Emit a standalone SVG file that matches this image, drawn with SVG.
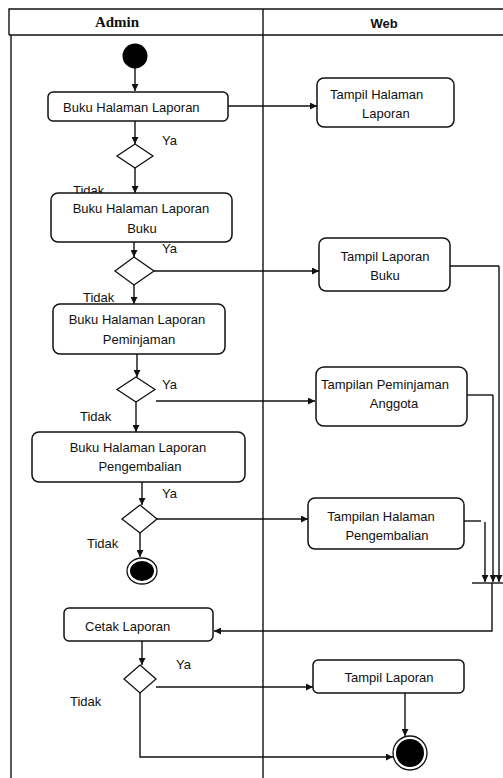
<svg xmlns="http://www.w3.org/2000/svg" width="503" height="778" viewBox="0 0 503 778">
  <style>
    .lane { fill: none; stroke: #111; stroke-width: 1.4; }
    .act { fill: #fff; stroke: #111; stroke-width: 1.5; }
    .dec { fill: #fff; stroke: #111; stroke-width: 1.3; }
    .flow { fill: none; stroke: #111; stroke-width: 1.4; }
    .arr { marker-end: url(#head); }
    .t { font-family: "Liberation Sans", Arial, sans-serif; font-size: 13px; fill: #111; }
    .c { text-anchor: middle; }
    .hd { font-weight: bold; text-anchor: middle; fill: #111; }
  </style>
  <defs>
    <marker id="head" viewBox="0 0 10 10" refX="10" refY="5" markerWidth="7" markerHeight="7" markerUnits="userSpaceOnUse" orient="auto">
      <path d="M0,0 L10,5 L0,10 Z" fill="#111"/>
    </marker>
  </defs>

  <rect width="503" height="778" fill="#fff"/>

  <!-- swimlanes -->
  <g id="lanes">
    <path class="lane" d="M9,35 V9 H503 M9,35 H503 M11,35 V778 M263,9 V778"/>
    <text class="hd" x="117" y="27" font-family="'Liberation Serif', 'Times New Roman', serif" font-size="15">Admin</text>
    <text class="hd" x="384" y="28" font-family="'Liberation Sans', Arial, sans-serif" font-size="13">Web</text>
  </g>

  <!-- connectors -->
  <g id="connectors">
    <path class="flow arr" d="M135,68 V91"/>
    <path class="flow arr" d="M228,106 H317"/>
    <path class="flow arr" d="M135,121 V144"/>
    <path class="flow arr" d="M135,168 V193"/>
    <path class="flow arr" d="M134,242 V257"/>
    <path class="flow arr" d="M154,271 H319"/>
    <path class="flow arr" d="M134,285 V304"/>
    <path class="flow arr" d="M137,354 V377"/>
    <path class="flow arr" d="M156,401 H315"/>
    <path class="flow arr" d="M136,402 V432"/>
    <path class="flow arr" d="M142,482 V505"/>
    <path class="flow arr" d="M157,519 H308"/>
    <path class="flow arr" d="M140,533 V557"/>
    <!-- merge of the three web branches -->
    <path class="flow" d="M450,266 H499"/>
    <path class="flow arr" d="M499,266 V582"/>
    <path class="flow" d="M467,395 H493"/>
    <path class="flow arr" d="M493,395 V582"/>
    <path class="flow" d="M464,521 H481"/>
    <path class="flow arr" d="M485,522 V582"/>
    <path class="flow" d="M472,583 H503"/>
    <path class="flow arr" d="M492,583 V631 H214"/>
    <path class="flow arr" d="M142,641 V665"/>
    <path class="flow arr" d="M156,687 H313"/>
    <path class="flow arr" d="M405,693 V736"/>
    <path class="flow arr" d="M140,693 V757 H393"/>
  </g>

  <!-- labels on decisions -->
  <g id="guards" class="t">
    <text x="162" y="145">Ya</text>
    <text x="73" y="195">Tidak</text>
    <text x="162" y="253">Ya</text>
    <text x="83" y="302">Tidak</text>
    <text x="162" y="389">Ya</text>
    <text x="80" y="421">Tidak</text>
    <text x="162" y="498">Ya</text>
    <text x="87" y="548">Tidak</text>
    <text x="176" y="669">Ya</text>
    <text x="70" y="706">Tidak</text>
  </g>

  <g id="start">
    <circle cx="135" cy="56" r="12.5" fill="#000"/>
  </g>

  <g id="buka-laporan">
    <rect class="act" x="48" y="92" width="180" height="29" rx="5"/>
    <text class="t" x="63" y="112">Buku Halaman Laporan</text>
  </g>

  <g id="tampil-halaman-laporan">
    <rect class="act" x="317" y="78" width="137" height="49" rx="7"/>
    <text class="t" x="330" y="99">Tampil Halaman</text>
    <text class="t" x="362" y="118">Laporan</text>
  </g>

  <g id="decision-1">
    <path class="dec" d="M135,144 L153,156 L135,168 L117,156 Z"/>
  </g>

  <g id="buka-laporan-buku">
    <rect class="act" x="51" y="193" width="181" height="49" rx="7"/>
    <text class="t c" x="141" y="213">Buku Halaman Laporan</text>
    <text class="t c" x="142" y="233">Buku</text>
  </g>

  <g id="decision-2">
    <path class="dec" d="M134,257 L154,271 L134,285 L115,271 Z"/>
  </g>

  <g id="tampil-laporan-buku">
    <rect class="act" x="319" y="238" width="131" height="53" rx="7"/>
    <text class="t c" x="385" y="261">Tampil Laporan</text>
    <text class="t c" x="385" y="280">Buku</text>
  </g>

  <g id="buka-laporan-peminjaman">
    <rect class="act" x="53" y="304" width="172" height="50" rx="7"/>
    <text class="t c" x="137" y="324">Buku Halaman Laporan</text>
    <text class="t c" x="139" y="344">Peminjaman</text>
  </g>

  <g id="decision-3">
    <path class="dec" d="M136,377 L155,389.5 L136,402 L117,389.5 Z"/>
  </g>

  <g id="tampilan-peminjaman">
    <rect class="act" x="316" y="367" width="151" height="59" rx="8"/>
    <text class="t c" x="385" y="389">Tampilan Peminjaman</text>
    <text class="t c" x="394" y="408">Anggota</text>
  </g>

  <g id="buka-laporan-pengembalian">
    <rect class="act" x="32" y="432" width="213" height="50" rx="7"/>
    <text class="t c" x="138" y="452">Buku Halaman Laporan</text>
    <text class="t c" x="140" y="471">Pengembalian</text>
  </g>

  <g id="decision-4">
    <path class="dec" d="M140,505 L157,519 L140,533 L122,519 Z"/>
  </g>

  <g id="tampilan-pengembalian">
    <rect class="act" x="308" y="498" width="156" height="51" rx="7"/>
    <text class="t c" x="381" y="521">Tampilan Halaman</text>
    <text class="t c" x="387" y="540">Pengembalian</text>
  </g>

  <g id="end-1">
    <ellipse cx="142" cy="571" rx="15" ry="13" fill="#fff" stroke="#111" stroke-width="1.3"/>
    <ellipse cx="142" cy="571" rx="12" ry="10" fill="#000"/>
  </g>

  <g id="cetak-laporan">
    <rect class="act" x="64" y="608" width="149" height="33" rx="5"/>
    <text class="t" x="85" y="631">Cetak Laporan</text>
  </g>

  <g id="decision-5">
    <path class="dec" d="M140,665 L156,679 L140,693 L124,679 Z"/>
  </g>

  <g id="tampil-laporan">
    <rect class="act" x="313" y="660" width="151" height="33" rx="5"/>
    <text class="t c" x="389" y="682">Tampil Laporan</text>
  </g>

  <g id="end-2">
    <circle cx="410" cy="753" r="17" fill="#fff" stroke="#111" stroke-width="1.3"/>
    <circle cx="410" cy="753" r="14" fill="#000"/>
  </g>
</svg>
